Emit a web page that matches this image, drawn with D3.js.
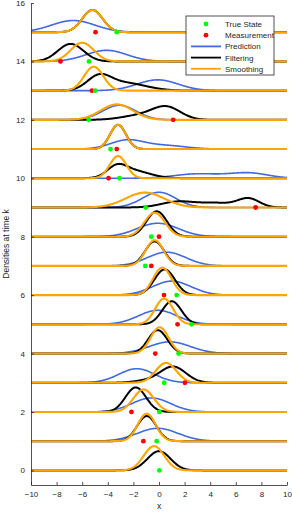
<!DOCTYPE html>
<html>
<head>
<meta charset="utf-8">
<script src="https://cdn.jsdelivr.net/npm/d3@7"></script>
<style>
  body { margin: 0; background: #fff; }
  text { font-family: "Liberation Sans", Arial, sans-serif; }
</style>
</head>
<body>
<div id="chart"></div>
<script>
// time steps k = 0..15
const steps = d3.range(0, 16);

const trueState = [0.03, -0.18, 0.03, 0.41, 1.53, 2.54, 1.38, -1.07, -0.6, -1.04, -3.09, -3.79, -5.5, -4.98, -5.47, -3.3];
const measurement = [null, -1.22, -2.15, 2.02, -0.29, 1.45, 0.39, -0.6, 0.0, 7.55, -3.94, -3.3, 1.11, -5.24, -7.7, -4.96];

// densities: each row is a list of bumps [mean, spread, peak height]
const prediction = [
  null,
  [[-0.1, 1.6, 0.44]],
  [[-0.6, 1.5, 0.48]],
  [[-1.74, 1.4, 0.48]],
  [[0.85, 1.6, 0.40]],
  [[-0.1, 1.5, 0.48]],
  [[1.0, 1.5, 0.48]],
  [[0.6, 1.5, 0.47]],
  [[-0.1, 1.6, 0.46]],
  [[0.0, 1.3, 0.52]],
  [[3.0, 1.8, 0.15], [7.0, 1.5, 0.18]],
  [[-2.5, 1.3, 0.30], [0.5, 1.6, 0.12]],
  [[-3.1, 1.3, 0.50]],
  [[-0.1, 1.6, 0.37]],
  [[-4.1, 1.6, 0.38]],
  [[-6.7, 1.7, 0.40]]
];
const filtering = [
  [[0.0, 0.9, 0.66]],
  [[-0.96, 0.75, 0.86]],
  [[-1.82, 0.8, 0.84]],
  [[1.1, 1.0, 0.55], [-1.0, 1.0, 0.07]],
  [[-0.1, 0.75, 0.80]],
  [[1.0, 0.75, 0.79]],
  [[0.44, 0.8, 0.88]],
  [[-0.34, 0.75, 0.84]],
  [[-0.18, 0.8, 0.87]],
  [[1.5, 1.3, 0.20], [4.5, 1.3, 0.15], [7.0, 0.85, 0.30]],
  [[-3.3, 0.75, 0.33], [-2.0, 1.3, 0.25]],
  [[-3.2, 0.62, 0.83]],
  [[0.6, 1.1, 0.42], [-1.5, 1.4, 0.15]],
  [[-4.7, 0.9, 0.42], [-2.8, 1.7, 0.27]],
  [[-6.9, 1.0, 0.60]],
  [[-5.2, 0.8, 0.76]]
];
const smoothing = [
  [[-0.39, 0.8, 0.83]],
  [[-0.96, 0.7, 0.94]],
  [[-1.2, 0.8, 0.77]],
  [[0.55, 0.8, 0.68]],
  [[0.05, 0.7, 0.90]],
  [[0.4, 0.7, 0.88]],
  [[0.26, 0.72, 0.94]],
  [[-0.34, 0.7, 0.88]],
  [[-0.34, 0.8, 0.82]],
  [[-1.1, 1.5, 0.51]],
  [[-3.2, 0.65, 0.76]],
  [[-3.2, 0.62, 0.83]],
  [[-3.3, 1.25, 0.53]],
  [[-5.1, 0.75, 0.82]],
  [[-6.0, 0.9, 0.64]],
  [[-5.2, 0.8, 0.76]]
];

const xTicks = [-10, -8, -6, -4, -2, 0, 2, 4, 6, 8, 10];
const yTicks = [0, 2, 4, 6, 8, 10, 12, 14, 16];
const legendItems = ["True State", "Measurement", "Prediction", "Filtering", "Smoothing"];

const width = 292, height = 513;
const margin = { top: 3, right: 5, bottom: 28, left: 31 };
const axisColor = "#262626";
const blue = "#4169e1", orange = "#ffa500";

const x = d3.scaleLinear()
    .domain([-10, 10])
    .range([margin.left, width - margin.right]);

const y = d3.scaleLinear()
    .domain([-0.5, 16])
    .range([height - margin.bottom, margin.top]);

const svg = d3.select("#chart")
    .append("svg")
    .attr("width", width)
    .attr("height", height);

// sample a density row along x
const grid = d3.range(-10, 10.0001, 0.05);
function density(bumps, xv) {
    let s = 0;
    bumps.forEach(b => {
        s += b[2] * Math.exp(-((xv - b[0]) * (xv - b[0])) / (2 * b[1] * b[1]));
    });
    return s;
}
const line = d3.line()
    .x(d => x(d[0]))
    .y(d => y(d[1]));

function drawRow(k, bumps, color, w) {
    if (!bumps) return;
    const pts = grid.map(xv => [xv, k + density(bumps, xv)]);
    svg.append("path")
        .attr("d", line(pts))
        .attr("fill", "none")
        .attr("stroke", color)
        .attr("stroke-width", w)
        .attr("stroke-linejoin", "round");
}

steps.forEach(k => {
    drawRow(k, prediction[k], blue, 1.6);
    drawRow(k, filtering[k], "#000", 2);
    drawRow(k, smoothing[k], orange, 2.1);
});

// dots on top
steps.forEach(k => {
    if (measurement[k] !== null) {
        svg.append("circle")
            .attr("cx", x(measurement[k]))
            .attr("cy", y(k))
            .attr("r", 2.4)
            .attr("fill", "#ff0000");
    }
    svg.append("circle")
        .attr("cx", x(trueState[k]))
        .attr("cy", y(k))
        .attr("r", 2.4)
        .attr("fill", "#00ff00");
});

// axes
const gx = svg.append("g")
    .attr("transform", `translate(0,${y(-0.5)})`)
    .call(d3.axisBottom(x).tickValues(xTicks).tickSizeInner(-3).tickSizeOuter(0).tickPadding(6));
const gy = svg.append("g")
    .attr("transform", `translate(${x(-10)},0)`)
    .call(d3.axisLeft(y).tickValues(yTicks).tickSizeInner(-3).tickSizeOuter(0).tickPadding(6));

[gx, gy].forEach(g => {
    g.select(".domain").attr("stroke", axisColor).attr("stroke-width", 0.8);
    g.selectAll(".tick line").attr("stroke", axisColor).attr("stroke-width", 0.8);
    g.selectAll(".tick text").attr("fill", axisColor).style("font-size", "8px");
});

svg.append("text")
    .attr("x", x(0))
    .attr("y", height - 4)
    .attr("text-anchor", "middle")
    .attr("fill", axisColor)
    .style("font-size", "8.5px")
    .text("x");

svg.append("text")
    .attr("transform", `translate(9,${y(7.75)}) rotate(-90)`)
    .attr("text-anchor", "middle")
    .attr("fill", axisColor)
    .style("font-size", "8.5px")
    .text("Densities at time k");

// legend
const lg = svg.append("g").attr("transform", "translate(186,16)");
lg.append("rect")
    .attr("width", 88)
    .attr("height", 59)
    .attr("fill", "#fff")
    .attr("stroke", axisColor)
    .attr("stroke-width", 0.8);

legendItems.forEach((name, i) => {
    const ly = 8 + i * 11.2;
    if (i < 2) {
        lg.append("circle")
            .attr("cx", 20)
            .attr("cy", ly)
            .attr("r", 2.4)
            .attr("fill", i === 0 ? "#00ff00" : "#ff0000");
    } else {
        lg.append("line")
            .attr("x1", 5).attr("x2", 35)
            .attr("y1", ly).attr("y2", ly)
            .attr("stroke", [blue, "#000", orange][i - 2])
            .attr("stroke-width", 1.8);
    }
    lg.append("text")
        .attr("x", 39)
        .attr("y", ly + 3)
        .attr("fill", axisColor)
        .style("font-size", "8px")
        .text(name);
});
</script>
</body>
</html>
